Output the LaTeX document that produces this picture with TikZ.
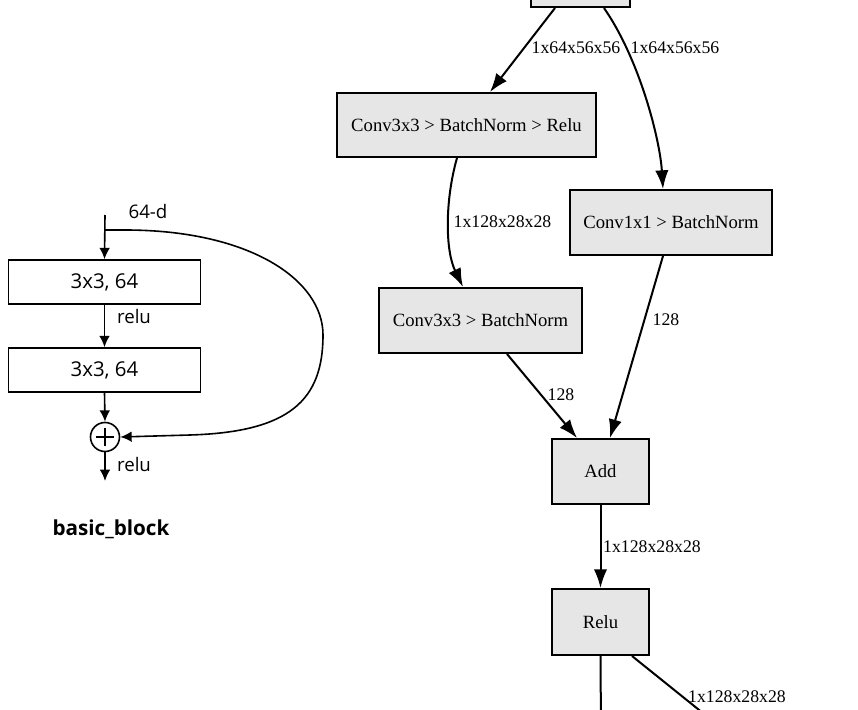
\documentclass[tikz,border=0pt]{standalone}
\usepackage{fontspec}
\setmainfont{Liberation Serif}
\newfontfamily\sansf{Open Sans}
\newfontfamily\boldsans{Open Sans}
\usetikzlibrary{arrows.meta,calc}
\definecolor{boxgray}{RGB}{230,230,230}
\tikzset{
  gbox/.style={draw=black, fill=boxgray, line width=1.5pt, inner sep=0pt,
    font=\fontsize{14}{16}\selectfont},
  gedge/.style={line width=1.5pt, -{Latex[length=14pt,width=10pt]}},
  gline/.style={line width=1.5pt},
  glabel/.style={font=\fontsize{13.3}{15}\selectfont, inner sep=0pt},
  lbox/.style={draw=black, line width=1.2pt, inner sep=0pt, minimum width=192*0.75pt,
    minimum height=44*0.75pt, font=\sansf\fontsize{15.3}{17}\selectfont},
  ledge/.style={line width=1.2pt, -{Latex[length=8.5pt,width=8pt]}},
  llabel/.style={font=\sansf\fontsize{14}{16}\selectfont, inner sep=0pt},
}
\begin{document}
\begin{tikzpicture}[x=0.75pt,y=-0.75pt]
\useasboundingbox (0,0) rectangle (858,710);
\clip (0,0) rectangle (858,710);
% ---------- left: basic block ----------
\coordinate (in) at (105,215);
\coordinate (split) at (105,230);
\node[lbox] (b1) at (104.5,282) {3x3, 64};
\node[lbox] (b2) at (104.5,370) {3x3, 64};
\node[draw=black, line width=1.2pt, circle, minimum size=29*0.75pt, inner sep=0pt] (plus) at (105,437) {};
\draw[line width=1.2pt] ($(plus.north)+(0,6)$) -- ($(plus.south)+(0,-6)$);
\draw[line width=1.2pt] ($(plus.west)+(6,0)$) -- ($(plus.east)+(-6,0)$);
\coordinate (out) at (105,481);
\draw[ledge] (in) -- (b1.north);
\draw[ledge] (b1.south) -- (b2.north);
\draw[ledge] (b2.south) -- (plus.north);
\draw[ledge] (plus.south) -- (out);
\draw[ledge] (split) -- (125,230) .. controls (250,230) and (323,280) .. (323,335)
  .. controls (323,400) and (290,432) .. (190,435) -- (plus.east);
\node[llabel] (l64) at (148,212) {64-d};
\node[llabel] (lrelu1) at (134,316) {relu};
\node[llabel] (lrelu2) at (134,464) {relu};
\node[font=\boldsans\bfseries\fontsize{15.5}{18}\selectfont, inner sep=0pt] (title) at (111,529) {basic\_block};
% ---------- right: graph ----------
\node[gbox, minimum width=99*0.75pt, minimum height=60*0.75pt] (top) at (580.5,-23) {};
\node[gbox, minimum width=259*0.75pt, minimum height=64*0.75pt] (c1) at (466.5,125) {Conv3x3 > BatchNorm > Relu};
\node[gbox, minimum width=202*0.75pt, minimum height=65*0.75pt] (c2) at (671,222.5) {Conv1x1 > BatchNorm};
\node[gbox, minimum width=203*0.75pt, minimum height=65*0.75pt] (c3) at (480.5,320.5) {Conv3x3 > BatchNorm};
\node[gbox, minimum width=97*0.75pt, minimum height=65*0.75pt] (add) at (600.5,471.5) {Add};
\node[gbox, minimum width=97*0.75pt, minimum height=66*0.75pt] (relu) at (600.5,622) {Relu};
\coordinate (o1) at (601,730);
\coordinate (o2) at (724,730);
\draw[gedge] ($(top.south)+(-25.5,0)$) -- ($(c1.north)+(23.5,0)$);
\draw[gedge] ($(top.south)+(23.5,0)$) .. controls (640,60) and (660,140) .. ($(c2.north)+(-8,0)$);
\draw[gedge] ($(c1.south)+(-9.5,0)$) .. controls (445,200) and (445,250) .. ($(c3.north)+(-17.5,0)$);
\draw[gedge] ($(c3.south)+(26.5,0)$) -- ($(add.north)+(-23.5,0)$);
\draw[gedge] ($(c2.south)+(-8,0)$) -- ($(add.north)+(9.5,0)$);
\draw[gedge] (add.south) -- (relu.north);
\draw[gline] (relu.south) -- (o1);
\draw[gline] ($(relu.south)+(31.5,0)$) -- (o2);
\node[glabel] (t1) at (576,48) {1x64x56x56};
\node[glabel] (t2) at (675,48) {1x64x56x56};
\node[glabel] (t3) at (502.5,222) {1x128x28x28};
\node[glabel] (t4) at (666,320) {128};
\node[glabel] (t5) at (561,395) {128};
\node[glabel] (t6) at (652,547) {1x128x28x28};
\node[glabel] (t7) at (737,697) {1x128x28x28};
\end{tikzpicture}
\end{document}
